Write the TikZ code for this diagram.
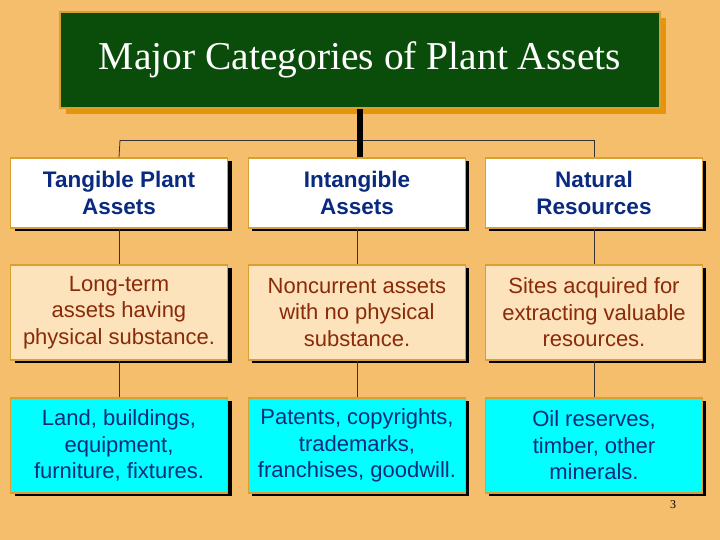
\documentclass[tikz,border=0pt]{standalone}
\usepackage{fontspec}
\setmainfont{Liberation Serif}
\setsansfont{Liberation Sans}
\begin{document}
\begin{tikzpicture}[x=1pt,y=-1pt,
  bx/.style={draw=gold,line width=1.2pt,minimum width=217pt,align=center,font=\sffamily\fontsize{22}{26.5}\selectfont,inner sep=0pt},
  r1/.style={bx,fill=white,minimum height=70pt,text=navy,font=\sffamily\bfseries\fontsize{22.5}{27}\selectfont},
  r2/.style={bx,fill=peach,minimum height=95pt,text=brownt},
  r3/.style={bx,fill=cyan,minimum height=95pt,text=navy},
  sh/.style={fill=black},
  ln/.style={draw=black!80,line width=0.8pt}]
\definecolor{bg}{HTML}{F4BE6C}
\definecolor{gold}{HTML}{D9A030}
\definecolor{peach}{HTML}{FCE3BC}
\definecolor{cyan}{HTML}{00FFFF}
\definecolor{navy}{HTML}{0A2A80}
\definecolor{brownt}{HTML}{8A2A08}
\definecolor{dgreen}{HTML}{0A4D0A}
\definecolor{tshadow}{HTML}{E8940A}
\fill[bg] (0,0) rectangle (720,540);
\useasboundingbox (0,0) rectangle (720,540);
% title
\fill[tshadow] (66,18) rectangle (666,114);
\node[draw=gold,line width=1.2pt,fill=dgreen,minimum width=600pt,minimum height=96pt,inner sep=0pt,text=white,font=\fontsize{39.5}{42}\selectfont] (title) at (360,60) {Major Categories of Plant Assets};
% connectors
\coordinate (hl) at (120,140);
\coordinate (hr) at (594,140);
\draw[ln] (hl) -- (hr);
\foreach \c/\x in {1/120,2/357,3/594}{
  \fill[sh] (\x-105.5,161) rectangle (\x+111.5,231);
  \fill[sh] (\x-105.5,268) rectangle (\x+111.5,363);
  \fill[sh] (\x-105.5,401) rectangle (\x+111.5,496);
}
\node[r1] (a1) at (119,193) {Tangible Plant\\Assets};
\node[r1] (b1) at (357,193) {Intangible\\Assets};
\node[r1] (c1) at (594,193) {Natural\\Resources};
\node[r2] (a2) at (119,312.5) {Long-term\\assets having\\physical substance.};
\node[r2] (b2) at (357,312.5) {Noncurrent assets\\with no physical\\substance.};
\node[r2] (c2) at (594,312.5) {Sites acquired for\\extracting valuable\\resources.};
\node[r3] (a3) at (119,445.5) {Land, buildings,\\equipment,\\furniture, fixtures.};
\node[r3] (b3) at (357,445.5) {Patents, copyrights,\\trademarks,\\franchises, goodwill.};
\node[r3] (c3) at (594,445.5) {Oil reserves,\\timber, other\\minerals.};
\draw[ln] (hl) -- (a1.north);
\draw[ln] (hr) -- (c1.north);
\draw[line width=6pt,black] (title.south) -- (title.south |- b1.north);
\foreach \c in {a,b,c}{
  \draw[ln] (\c1.south) -- (\c2.north);
  \draw[ln] (\c2.south) -- (\c3.north);
}
\node[font=\fontsize{12}{12}\selectfont] (pg) at (673,505) {3};
\end{tikzpicture}
\end{document}
